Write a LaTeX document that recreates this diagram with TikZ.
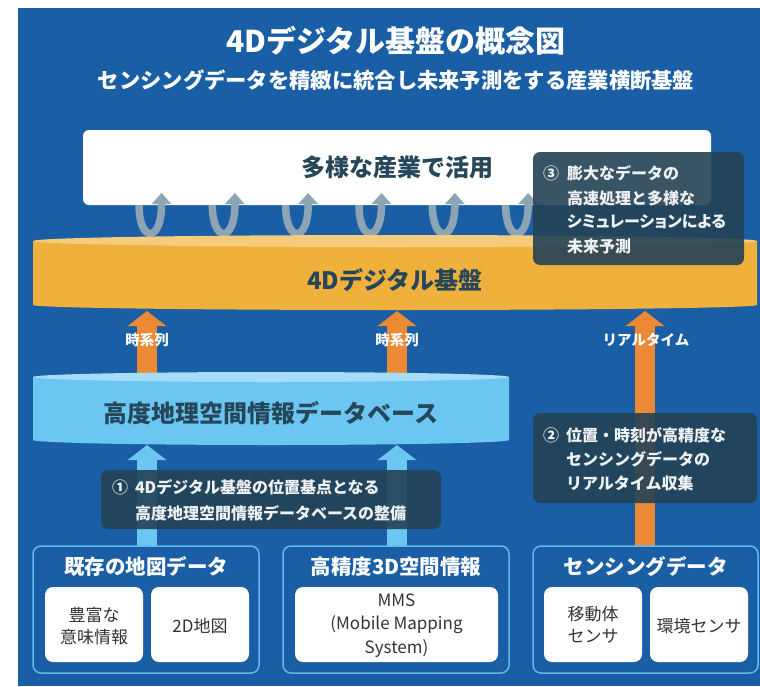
\documentclass[tikz,border=0pt]{standalone}
\usepackage{fontspec}
\setmainfont{Noto Sans CJK JP}
\newfontfamily\jpprop[RawFeature=+palt]{Noto Sans CJK JP}
\usetikzlibrary{arrows.meta}
\definecolor{bg}{HTML}{1A5FA6}
\definecolor{slate}{HTML}{26475A}
\definecolor{uarr}{HTML}{8DA4B4}
\definecolor{orbody}{HTML}{EFB13C}
\definecolor{ortop}{HTML}{F5CB7C}
\definecolor{orarr}{HTML}{EB8934}
\definecolor{lbbody}{HTML}{6BC6F1}
\definecolor{lbtop}{HTML}{A5DCF8}
\definecolor{annot}{HTML}{234255}
\definecolor{annottext}{HTML}{EEF2F4}
\definecolor{grpline}{HTML}{62BBEA}
\definecolor{innertext}{HTML}{333333}
\newcommand\fsz[2]{\fontsize{#1}{#2}\selectfont}
\begin{document}
\begin{tikzpicture}[x=1pt,y=-1pt,
  txt/.style={inner sep=0pt, outer sep=0pt},
  titletext/.style={txt, text=white, font=\bfseries\fsz{30}{36}},
  subtitletext/.style={txt, text=white, font=\bfseries\fsz{21.3}{25}},
  bigslate/.style={txt, text=slate, font=\bfseries\fsz{24}{28}},
  arrlabel/.style={txt, text=white, font=\bfseries\fsz{14.5}{16}},
  annotline/.style={txt, anchor=west, text=annottext, font=\bfseries\fsz{16}{20}},
  grptitle/.style={txt, text=white, font=\bfseries\fsz{20.5}{24}},
  innertxt/.style={txt, text=innertext, align=center, font=\fsz{17}{22}},
  uarrow/.style={draw=uarr, line width=7.5pt, -{Triangle[width=19pt,length=11pt]}},
  oarrow/.style={draw=orarr, line width=20pt, -{Triangle[width=38pt,length=15pt]}},
  lbarrow/.style={draw=lbbody, line width=20pt, -{Triangle[width=38pt,length=15pt]}},
  annotbox/.style={fill=annot, fill opacity=0.9, rounded corners=7pt},
  grpbox/.style={draw=grpline, line width=1.5pt, rounded corners=8pt},
  innerbox/.style={fill=white, rounded corners=8pt}
]
\useasboundingbox (0,0) rectangle (760,686);
\fill[white] (0,0) rectangle (760,686);
\fill[bg] (18,8) rectangle (760,686);

% titles
\node[titletext] (title) at (396,41) {4Dデジタル基盤の概念図};
\node[subtitletext] (subtitle) at (396,80) {センシングデータを精緻に統合し未来予測をする産業横断基盤};

% top white box
\node[fill=white, rounded corners=6pt, minimum width=628pt, minimum height=75pt, inner sep=0pt,
      text=slate, font=\bfseries\fsz{24}{28}] (usebox) at (397,167.5) {多様な産業で活用};

% U arrows
\foreach \i in {0,...,5}{
  \pgfmathsetmacro\cx{150+73.33*\i}
  \coordinate (u\i a) at (\cx-11,205);
  \coordinate (u\i b) at (\cx+11.5,205);
  \coordinate (u\i t) at (\cx+11.5,193);
  \draw[uarrow] (u\i a) .. controls +(0,38) and +(0,38) .. (u\i b) -- (u\i t);
}

% orange cylinder
\fill[orbody] (33,241) -- (33,305) arc[start angle=180,end angle=0,x radius=362,y radius=5] -- (757,241) -- cycle;
\fill[ortop] (395,241) ellipse[x radius=362, y radius=6];
\node[bigslate] (base4d) at (395,280) {4Dデジタル基盤};

% orange arrows
\coordinate (oa1s) at (147,380); \coordinate (oa1e) at (147,311);
\coordinate (oa2s) at (397,380); \coordinate (oa2e) at (397,311);
\coordinate (oa3s) at (645,546); \coordinate (oa3e) at (645,311);
\draw[oarrow] (oa1s) -- (oa1e);
\draw[oarrow] (oa2s) -- (oa2e);
\draw[oarrow] (oa3s) -- (oa3e);
\node[arrlabel] (lab1) at (147,340) {時系列};
\node[arrlabel] (lab2) at (397,340) {時系列};
\node[arrlabel] (lab3) at (646,340) {リアルタイム};

% light blue cylinder
\fill[lbbody] (33,377) -- (33,440) arc[start angle=180,end angle=0,x radius=238,y radius=5] -- (509,377) -- cycle;
\fill[lbtop] (271,377) ellipse[x radius=238, y radius=5];
\node[bigslate] (dbtext) at (271,413) {高度地理空間情報データベース};

% light blue arrows
\coordinate (la1s) at (147,546); \coordinate (la1e) at (147,445);
\coordinate (la2s) at (397,546); \coordinate (la2e) at (397,445);
\draw[lbarrow] (la1s) -- (la1e);
\draw[lbarrow] (la2s) -- (la2e);

% annotation box 3
\fill[annotbox] (533,152) rectangle (744,265);
\node[annotline] (n3) at (543,173) {③};
\node[annotline] (n3a) at (567,173) {膨大なデータの};
\node[annotline] (n3b) at (567,198) {高速処理と多様な};
\node[annotline, font=\jpprop\bfseries\fsz{16}{20}] (n3c) at (567,222) {シミュレーションによる};
\node[annotline] (n3d) at (567,246) {未来予測};

% annotation box 2
\fill[annotbox] (533,413) rectangle (757,503);
\node[annotline] (n2) at (543,435) {②};
\node[annotline] (n2a) at (566,435) {位置・時刻が高精度な};
\node[annotline] (n2b) at (566,459) {センシングデータの};
\node[annotline] (n2c) at (566,483) {リアルタイム収集};

% annotation box 1
\fill[annotbox] (101,470) rectangle (441,529);
\node[annotline] (n1) at (112,487) {①};
\node[annotline] (n1a) at (135,487) {4Dデジタル基盤の位置基点となる};
\node[annotline] (n1b) at (135,513) {高度地理空間情報データベースの整備};

% group boxes
\draw[grpbox] (33,546) rectangle (259,673);
\draw[grpbox] (283,546) rectangle (509,673);
\draw[grpbox] (533,546) rectangle (758,673);
\node[grptitle] (gA) at (146,567) {既存の地図データ};
\node[grptitle] (gB) at (396,567) {高精度3D空間情報};
\node[grptitle] (gC) at (645.5,567) {センシングデータ};

\fill[innerbox] (45,587) rectangle (143,662);
\fill[innerbox] (151,587) rectangle (249,662);
\fill[innerbox] (295,587) rectangle (498,662);
\fill[innerbox] (544,587) rectangle (642,662);
\fill[innerbox] (650,587) rectangle (748,662);
\node[innertxt] (iA1) at (94,626) {豊富な\\意味情報};
\node[innertxt] (iA2) at (200,626) {2D地図};
\node[innertxt, font=\fsz{17}{23.5}] (iB1) at (396.5,625.5) {MMS\\(Mobile Mapping\\System)};
\node[innertxt] (iC1) at (593,625) {移動体\\センサ};
\node[innertxt] (iC2) at (699,626) {環境センサ};
\end{tikzpicture}
\end{document}
